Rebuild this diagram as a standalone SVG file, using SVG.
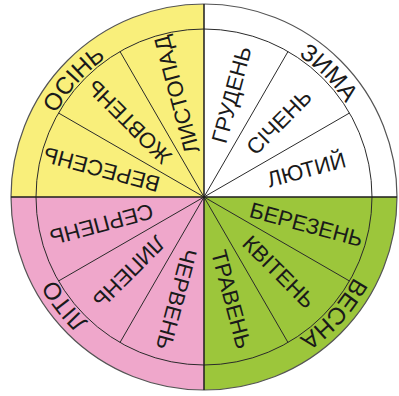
<svg xmlns="http://www.w3.org/2000/svg" xmlns:xlink="http://www.w3.org/1999/xlink" width="399" height="396" viewBox="0 0 399 396">
<style>
.q{stroke:none}
.m{font-family:"Liberation Sans",Arial,sans-serif;font-size:22px;fill:#1a1a1a;text-anchor:middle}
.s{font-family:"Liberation Sans",Arial,sans-serif;font-size:24px;fill:#1a1a1a;text-anchor:middle}
.ln{stroke:#2a2a2a;stroke-width:1;fill:none}
.ax{stroke:#1e1e1e;stroke-width:1.5;fill:none}
</style>
<defs>
<path id="ring" d="M374,197 A170,170 0 1 1 34,197 A170,170 0 1 1 374,197"/>
</defs>
<rect width="399" height="396" fill="#ffffff"/>
<g id="autumn">
<path class="q" fill="#F9EF7B" d="M204,197 L11,197 A193,193 0 0 1 204,4 Z"/>
<text class="m" x="310" y="197" dy="7.7" transform="rotate(195 204 197)">ВЕРЕСЕНЬ</text>
<text class="m" x="310" y="197" dy="7.7" transform="rotate(225 204 197)">ЖОВТЕНЬ</text>
<text class="m" x="310" y="197" dy="7.7" transform="rotate(255 204 197)">ЛИСТОПАД</text>
<text class="s"><textPath xlink:href="#ring" href="#ring" startOffset="658.7">ОСІНЬ</textPath></text>
</g>
<g id="winter">
<path class="q" fill="#ffffff" d="M204,197 L204,4 A193,193 0 0 1 397,197 Z"/>
<text class="m" x="310" y="197" dy="7.7" transform="rotate(-75 204 197)">ГРУДЕНЬ</text>
<text class="m" x="310" y="197" dy="7.7" transform="rotate(-45 204 197)">СІЧЕНЬ</text>
<text class="m" x="310" y="197" dy="7.7" transform="rotate(-15 204 197)">ЛЮТИЙ</text>
<text class="s"><textPath xlink:href="#ring" href="#ring" startOffset="934.6">ЗИМА</textPath></text>
</g>
<g id="spring">
<path class="q" fill="#9CC63B" d="M204,197 L397,197 A193,193 0 0 1 204,390 Z"/>
<text class="m" x="310" y="197" dy="7.7" transform="rotate(15 204 197)">БЕРЕЗЕНЬ</text>
<text class="m" x="310" y="197" dy="7.7" transform="rotate(45 204 197)">КВІТЕНЬ</text>
<text class="m" x="310" y="197" dy="7.7" transform="rotate(75 204 197)">ТРАВЕНЬ</text>
<text class="s"><textPath xlink:href="#ring" href="#ring" startOffset="124.6">ВЕСНА</textPath></text>
</g>
<g id="summer">
<path class="q" fill="#EFA7CB" d="M204,197 L204,390 A193,193 0 0 1 11,197 Z"/>
<text class="m" x="310" y="197" dy="7.7" transform="rotate(105 204 197)">ЧЕРВЕНЬ</text>
<text class="m" x="310" y="197" dy="7.7" transform="rotate(135 204 197)">ЛИПЕНЬ</text>
<text class="m" x="310" y="197" dy="7.7" transform="rotate(165 204 197)">СЕРПЕНЬ</text>
<text class="s"><textPath xlink:href="#ring" href="#ring" startOffset="421.3">ЛІТО</textPath></text>
</g>
<g id="connectors">
<circle class="ln" cx="204" cy="197" r="168"/>
<circle cx="204" cy="197" r="193" fill="none" stroke="#555" stroke-width="1.2"/>
<path class="ln" d="M204,197 L349.5,113 M204,197 L288,51.5 M204,197 L58.5,113 M204,197 L120,51.5 M204,197 L349.5,281 M204,197 L288,342.5 M204,197 L58.5,281 M204,197 L120,342.5"/>
<path class="ax" d="M11,197 L397,197 M204,4 L204,390"/>
</g>
</svg>
